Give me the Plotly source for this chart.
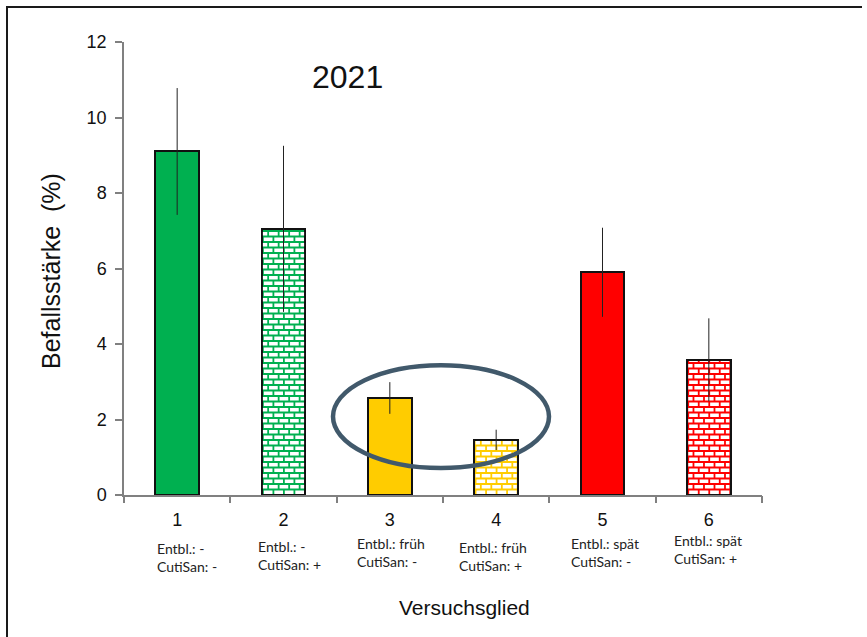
import plotly.graph_objects as go

# --- data -------------------------------------------------------------
versuchsglied = [1, 2, 3, 4, 5, 6]
tick_text = ["1", "2", "3", "4", "5", "6"]
befallsstaerke = [9.1, 7.05, 2.57, 1.46, 5.9, 3.58]
fehler = [1.68, 2.2, 0.42, 0.27, 1.18, 1.1]
entblaetterung = ["-", "-", "früh", "früh", "spät", "spät"]
cutisan = ["-", "+", "-", "+", "-", "+"]
farben = ["#00B050", "#00B050", "#FFCC00", "#FFCC00", "#FF0000", "#FF0000"]
mit_cutisan = [False, True, False, True, False, True]

# --- layout helpers ---------------------------------------------------
W, H = 867, 637
ML, MR, MT, MB = 124, 105, 42, 142
PW, PH = W - ML - MR, H - MT - MB
X_RANGE = [0.5, 6.5]
Y_RANGE = [0, 12]
BAR_W = 0.41


def px_to_x(px):
    return X_RANGE[0] + (px - ML) / PW * (X_RANGE[1] - X_RANGE[0])


def px_to_paper_y(py):
    return (H - MB - py) / PH


def px_to_paper_x(px):
    return (px - ML) / PW


# brick texture size (data units)
BRICK_H = 5.5 / PH * (Y_RANGE[1] - Y_RANGE[0])
BRICK_W = 10.5 / PW * (X_RANGE[1] - X_RANGE[0])
GAP_Y = 1.8 / PH * (Y_RANGE[1] - Y_RANGE[0])
GAP_X = 1.8 / PW * (X_RANGE[1] - X_RANGE[0])
INSET_X = 1.2 / PW * (X_RANGE[1] - X_RANGE[0])
INSET_Y = 1.2 / PH * (Y_RANGE[1] - Y_RANGE[0])


def brick_polygons(xc, top):
    left, right = xc - BAR_W / 2 + INSET_X, xc + BAR_W / 2 - INSET_X
    ceil = top - INSET_Y
    xs, ys = [], []
    row = 0
    while row * BRICK_H < ceil:
        y0 = row * BRICK_H + GAP_Y / 2
        y1 = min((row + 1) * BRICK_H - GAP_Y / 2, ceil)
        if y1 > y0:
            start = left - (BRICK_W / 2 if row % 2 else 0)
            k = 0
            while start + k * BRICK_W < right:
                bx0 = max(start + k * BRICK_W + GAP_X / 2, left)
                bx1 = min(start + (k + 1) * BRICK_W - GAP_X / 2, right)
                if bx1 > bx0:
                    xs += [bx0, bx1, bx1, bx0, bx0, None]
                    ys += [y0, y0, y1, y1, y0, None]
                k += 1
        row += 1
    return xs, ys


fig = go.Figure()

# bars (fill colour = mortar colour for the patterned ones)
fig.add_trace(go.Bar(
    x=versuchsglied, y=befallsstaerke, width=BAR_W,
    marker=dict(color=farben, line=dict(color="#111111", width=2)),
    showlegend=False, hoverinfo="skip",
))

# white bricks on the CutiSan variants
for xc, val, brick in zip(versuchsglied, befallsstaerke, mit_cutisan):
    if not brick:
        continue
    bx, by = brick_polygons(xc, val)
    fig.add_trace(go.Scatter(
        x=bx, y=by, mode="lines", fill="toself",
        fillcolor="white", line=dict(width=0, color="white"),
        showlegend=False, hoverinfo="skip",
    ))

# error bars on top
fig.add_trace(go.Scatter(
    x=versuchsglied, y=befallsstaerke, mode="markers",
    marker=dict(size=1, color="rgba(0,0,0,0)"),
    error_y=dict(type="data", array=fehler, visible=True,
                 color="#222222", thickness=1, width=0),
    showlegend=False, hoverinfo="skip",
))

# dummy trace on second x axis so its boundary ticks are drawn
fig.add_trace(go.Scatter(x=[X_RANGE[0]], y=[0], xaxis="x2", mode="markers",
                         marker=dict(size=1, color="rgba(0,0,0,0)"),
                         showlegend=False, hoverinfo="skip"))

annotations = []

# treatment descriptions under each group
label_left_px = [155, 256, 355, 457, 569, 672]
label_mid_px = [557, 555, 552, 556, 552, 549]
for e, c, lx, ly in zip(entblaetterung, cutisan, label_left_px, label_mid_px):
    annotations.append(dict(
        text=f"Entbl.: {e}<br>CutiSan: {c}",
        x=px_to_x(lx), xref="x", y=px_to_paper_y(ly), yref="paper",
        xanchor="left", yanchor="middle", align="left", showarrow=False,
        font=dict(family="Lato", size=14, color="#222222"),
    ))

annotations.append(dict(
    text="2021", x=px_to_paper_x(347), y=px_to_paper_y(77),
    xref="paper", yref="paper", showarrow=False,
    xanchor="center", yanchor="middle",
    font=dict(family="Liberation Sans", size=32, color="#111111"),
))
annotations.append(dict(
    text="Befallsstärke\u00a0 (%)", textangle=-90,
    x=px_to_paper_x(51), y=px_to_paper_y(271),
    xref="paper", yref="paper", showarrow=False,
    xanchor="center", yanchor="middle",
    font=dict(family="Liberation Sans", size=25, color="#111111"),
))
annotations.append(dict(
    text="Versuchsglied", x=px_to_paper_x(464), y=px_to_paper_y(607),
    xref="paper", yref="paper", showarrow=False,
    xanchor="center", yanchor="middle",
    font=dict(family="Liberation Sans", size=21, color="#111111"),
))

shapes = [
    # highlight ring around groups 3 and 4
    dict(type="circle", xref="x", yref="y",
         x0=px_to_x(333), x1=px_to_x(549), y0=0.715, y1=3.44,
         line=dict(color="#41596B", width=4.5)),
    # outer frame (top and left edges)
    dict(type="line", xref="paper", yref="paper",
         x0=px_to_paper_x(6), x1=px_to_paper_x(862),
         y0=px_to_paper_y(7), y1=px_to_paper_y(7),
         line=dict(color="#1a1a1a", width=2)),
    dict(type="line", xref="paper", yref="paper",
         x0=px_to_paper_x(7), x1=px_to_paper_x(7),
         y0=px_to_paper_y(7), y1=px_to_paper_y(640),
         line=dict(color="#1a1a1a", width=2)),
]

fig.update_layout(
    width=W, height=H,
    margin=dict(l=ML, r=MR, t=MT, b=MB, pad=0),
    paper_bgcolor="white", plot_bgcolor="white",
    showlegend=False, bargap=0,
    annotations=annotations, shapes=shapes,
    xaxis=dict(
        range=X_RANGE, tickvals=versuchsglied, ticktext=tick_text,
        ticks="outside", ticklen=8, tickcolor="rgba(0,0,0,0)",
        showgrid=False, zeroline=False,
        showline=True, linecolor="#808080", linewidth=1.5,
        tickfont=dict(family="Liberation Sans", size=18, color="#111111"),
    ),
    xaxis2=dict(
        overlaying="x", range=X_RANGE, side="bottom", anchor="y",
        tickvals=[0.5, 1.5, 2.5, 3.5, 4.5, 5.5, 6.5],
        ticks="outside", ticklen=7, tickcolor="#808080", tickwidth=1.5,
        showticklabels=False, showgrid=False, zeroline=False, showline=False,
    ),
    yaxis=dict(
        range=Y_RANGE, tickvals=[0, 2, 4, 6, 8, 10, 12],
        ticks="outside", ticklen=7, tickcolor="#808080", tickwidth=1.5,
        ticklabelstandoff=5,
        showgrid=False, zeroline=False,
        showline=True, linecolor="#808080", linewidth=1.5,
        tickfont=dict(family="Liberation Sans", size=18, color="#111111"),
    ),
)

fig.write_html("out.html")
